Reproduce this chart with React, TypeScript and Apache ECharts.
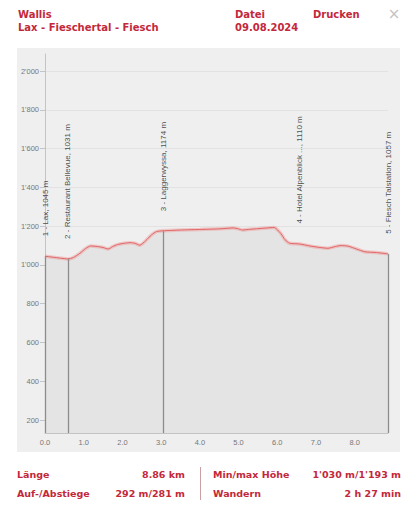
import React, { useEffect, useRef } from 'react';
import * as echarts from 'echarts';

// Elevation profile (km, m)
const profileKm = [0.0, 0.2, 0.4, 0.59, 0.73, 0.9, 1.05, 1.18, 1.35, 1.5, 1.63, 1.75, 1.87, 2.05, 2.2, 2.32, 2.45, 2.6, 2.75, 2.88, 3.05, 3.5, 4.0, 4.5, 4.86, 5.0, 5.1, 5.3, 5.5, 5.75, 5.92, 5.98, 6.1, 6.2, 6.32, 6.58, 6.84, 7.1, 7.31, 7.5, 7.65, 7.83, 8.05, 8.26, 8.56, 8.86];
const profileElev = [1045, 1040, 1035, 1031, 1038, 1060, 1085, 1098, 1095, 1090, 1082, 1095, 1105, 1112, 1115, 1112, 1102, 1125, 1155, 1172, 1176, 1180, 1183, 1186, 1191, 1186, 1180, 1184, 1187, 1191, 1193, 1186, 1160, 1130, 1112, 1108, 1098, 1090, 1086, 1095, 1100, 1097, 1082, 1068, 1064, 1057];

// Waypoints
const waypointKm = [0.0, 0.59, 3.05, 6.58, 8.86];
const waypointElev = [1045, 1031, 1174, 1110, 1057];
const waypointName = ['1 - Lax', '2 - Restaurant Bellevue', '3 - Laggerwyssa', '4 - Hotel Alpenblick ...', '5 - Fiesch Talstation'];
const waypointHasLine = [true, true, true, false, true];

// Axes
const yTicks = [200, 400, 600, 800, 1000, 1200, 1400, 1600, 1800, 2000];
const xTicks = [0, 1, 2, 3, 4, 5, 6, 7, 8];
const yMin = 133;
const yMax = 2088;
const xMax = 8.86;

// Header & footer texts
const headerLeft = ['Wallis', 'Lax - Fieschertal - Fiesch'];
const headerMid = ['Datei', '09.08.2024'];
const headerRight = 'Drucken';
const statLabelsLeft = ['Länge', 'Auf-/Abstiege'];
const statValuesLeft = ['8.86 km', '292 m/281 m'];
const statLabelsRight = ['Min/max Höhe', 'Wandern'];
const statValuesRight = ["1'030 m/1'193 m", '2 h 27 min'];

const RED = '#c3283a';
const BOLD = 'bold 10px "DejaVu Sans", Verdana, sans-serif';
const BOLD_S = 'bold 9.5px "DejaVu Sans", Verdana, sans-serif';

function fmtThousands(v: number): string {
  const s = String(Math.round(v));
  return s.replace(/\B(?=(\d{3})+(?!\d))/g, "'");
}

export default function App() {
  const ref = useRef<HTMLDivElement>(null);
  useEffect(() => {
    if (!ref.current) return;
    const chart = echarts.init(ref.current, null, { renderer: 'svg' });
    const profile = profileKm.map((k, i) => [k, profileElev[i]]);
    const wpData = waypointKm.map((k, i) => ({
      value: [k, waypointElev[i]],
      name: `${waypointName[i]}, ${waypointElev[i]} m`,
    }));
    const vLines = waypointKm
      .map((k, i) => ({ k, e: waypointElev[i], show: waypointHasLine[i] }))
      .filter((d) => d.show)
      .map((d) => [{ coord: [d.k, yMin] }, { coord: [d.k, d.e] }]);

    const graphics: any[] = [
      { type: 'rect', shape: { x: 17, y: 48, width: 383, height: 404 }, style: { fill: '#efefef' }, z: -10 },
      { type: 'text', x: 18, y: 14, style: { text: headerLeft[0], font: BOLD, fill: RED, verticalAlign: 'middle' } },
      { type: 'text', x: 18, y: 27, style: { text: headerLeft[1], font: BOLD, fill: RED, verticalAlign: 'middle' } },
      { type: 'text', x: 235, y: 14, style: { text: headerMid[0], font: BOLD, fill: RED, verticalAlign: 'middle' } },
      { type: 'text', x: 235, y: 27, style: { text: headerMid[1], font: BOLD, fill: RED, verticalAlign: 'middle' } },
      { type: 'text', x: 313, y: 14, style: { text: headerRight, font: BOLD, fill: RED, verticalAlign: 'middle' } },
      { type: 'text', x: 394, y: 14, style: { text: '×', font: '15px "DejaVu Sans", sans-serif', fill: '#c4c4c4', align: 'center', verticalAlign: 'middle' } },
      { type: 'line', shape: { x1: 200.5, y1: 467, x2: 200.5, y2: 500 }, style: { stroke: '#c9a0a4', lineWidth: 1 } },
    ];
    const rows = [474, 493];
    rows.forEach((y, i) => {
      graphics.push({ type: 'text', x: 17, y, style: { text: statLabelsLeft[i], font: BOLD_S, fill: RED, verticalAlign: 'middle' } });
      graphics.push({ type: 'text', x: 185, y, style: { text: statValuesLeft[i], font: BOLD_S, fill: RED, align: 'right', verticalAlign: 'middle' } });
      graphics.push({ type: 'text', x: 213, y, style: { text: statLabelsRight[i], font: BOLD_S, fill: RED, verticalAlign: 'middle' } });
      graphics.push({ type: 'text', x: 401, y, style: { text: statValuesRight[i], font: BOLD_S, fill: RED, align: 'right', verticalAlign: 'middle' } });
    });

    chart.setOption({
      animation: false,
      backgroundColor: '#ffffff',
      graphic: graphics,
      grid: { left: 45, right: 28, top: 54, bottom: 79, containLabel: false },
      xAxis: {
        type: 'value',
        min: 0,
        max: xMax,
        axisLine: { show: true, lineStyle: { color: '#c4c4c4', width: 1 } },
        axisTick: { show: false, customValues: xTicks },
        splitLine: { show: false },
        axisLabel: {
          customValues: xTicks,
          formatter: (v: number) => v.toFixed(1),
          color: '#777',
          fontSize: 7.5,
          fontFamily: '"Liberation Sans", Arial, sans-serif',
          margin: 5,
        },
      },
      yAxis: {
        type: 'value',
        min: yMin,
        max: yMax,
        axisLine: { show: true, lineStyle: { color: '#c4c4c4', width: 1 } },
        axisTick: { show: true, length: 5, customValues: yTicks, lineStyle: { color: '#c4c4c4' } },
        splitLine: { show: true, lineStyle: { color: '#e2e2e2', width: 1 } },
        axisLabel: {
          customValues: yTicks,
          formatter: (v: number) => fmtThousands(v),
          color: '#777',
          fontSize: 7.5,
          fontFamily: '"Liberation Sans", Arial, sans-serif',
          margin: 6,
        },
      },
      series: [
        {
          type: 'line',
          data: profile,
          symbol: 'none',
          smooth: 0.2,
          lineStyle: { color: 'rgba(240,150,150,0.45)', width: 3.5 },
          areaStyle: { color: '#e4e4e4', opacity: 1, origin: 'start' },
          z: 2,
          markLine: {
            silent: true,
            symbol: ['none', 'none'],
            label: { show: false },
            lineStyle: { color: '#8c8c8c', width: 1.3, type: 'solid' },
            data: vLines,
          },
        },
        {
          type: 'line',
          data: profile,
          symbol: 'none',
          smooth: 0.2,
          lineStyle: { color: '#e06464', width: 1 },
          z: 4,
        },
        {
          type: 'scatter',
          data: wpData,
          symbolSize: 0,
          z: 5,
          label: {
            show: true,
            formatter: (p: any) => p.name,
            position: [0, -20],
            rotate: 90,
            align: 'left',
            verticalAlign: 'middle',
            color: '#222',
            fontSize: 8,
            fontFamily: '"Liberation Sans", Arial, sans-serif',
          },
        },
      ],
    });
    return () => chart.dispose();
  }, []);
  return <div ref={ref} style={{ position: 'absolute', left: 0, top: 0, width: 416, height: 512 }} />;
}
